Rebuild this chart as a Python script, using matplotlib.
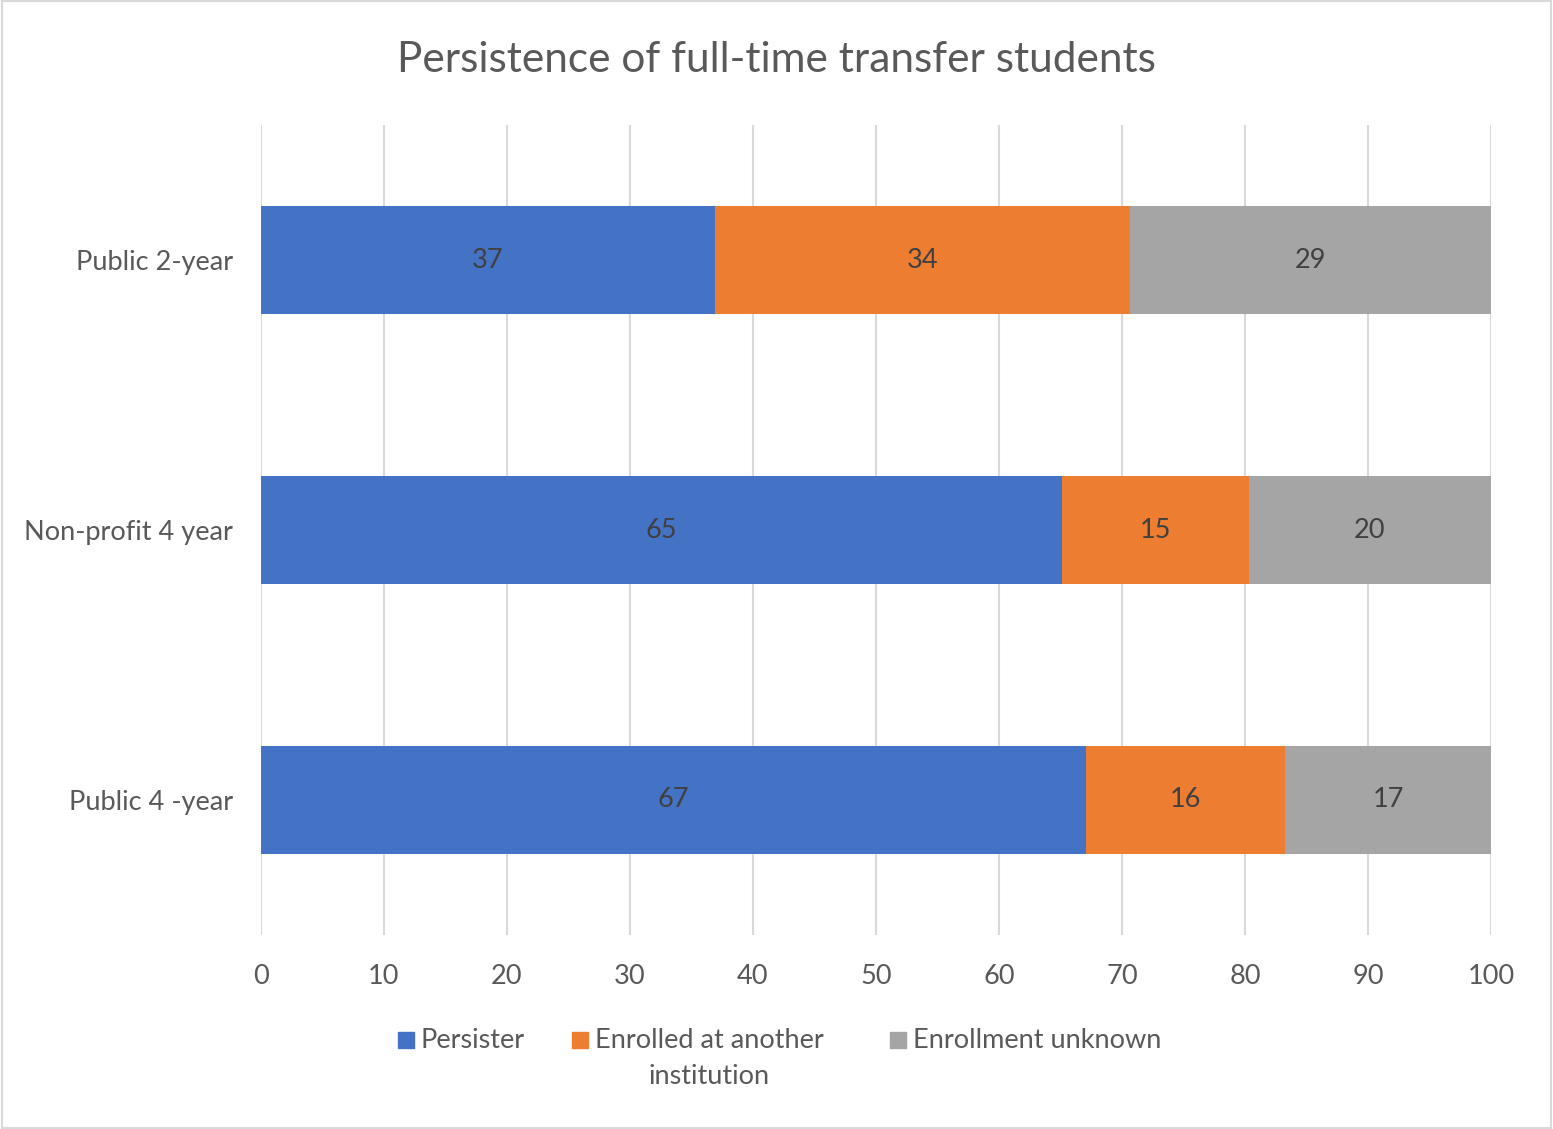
import matplotlib.pyplot as plt
from matplotlib.patches import Rectangle

# data
categories = ['Public 2-year', 'Non-profit 4 year', 'Public 4 -year']
persister = [36.9, 65.1, 67.1]
enrolled_other = [33.8, 15.2, 16.2]
unknown = [29.3, 19.7, 16.7]
series_names = ['Persister', 'Enrolled at another\ninstitution', 'Enrollment unknown']
colors = ['#4472C4', '#ED7D31', '#A5A5A5']

plt.rcParams['font.family'] = ['Lato', 'DejaVu Sans']
txt = '#595959'
fs = 19.5

fig = plt.figure(figsize=(15.53, 11.29), dpi=100)
ax = fig.add_axes([0.168, 0.172, 0.792, 0.717])

ypos = list(range(len(categories)))
left = [0] * len(categories)
for vals, name, col in zip([persister, enrolled_other, unknown], series_names, colors):
    bars = ax.barh(ypos, vals, left=left, height=0.4, color=col, label=name, zorder=3)
    for b, v in zip(bars, vals):
        ax.text(b.get_x() + b.get_width() / 2, b.get_y() + b.get_height() / 2, f'{v:.0f}',
                ha='center', va='center', fontsize=fs, color='#404040', zorder=4)
    left = [l + v for l, v in zip(left, vals)]

ax.set_xlim(0, 100)
ax.set_ylim(2.5, -0.5)
ax.set_xticks(range(0, 101, 10))
ax.set_yticks(ypos)
ax.set_yticklabels(categories)
ax.tick_params(axis='both', length=0, labelsize=fs, labelcolor=txt)
ax.tick_params(axis='x', pad=21)
ax.tick_params(axis='y', pad=20)
ax.grid(axis='x', color='#D9D9D9', linewidth=1.5, zorder=0)
for s in ax.spines.values():
    s.set_visible(False)

fig.text(0.5, 0.947, 'Persistence of full-time transfer students', ha='center', va='center',
         fontsize=30.5, color=txt)

# legend drawn by hand so the square sits on the first line of the wrapped label
W, H = 1553, 1129
leg_x = [398, 572, 890]     # left edge of each square, px
sq = 16
row_y = 1040                # centre of first legend line, px
for x0, name, col in zip(leg_x, series_names, colors):
    fig.patches.append(Rectangle((x0 / W, 1 - (row_y + sq / 2) / H), sq / W, sq / H,
                                 transform=fig.transFigure, color=col))
    fig.text((x0 + sq + 7) / W, 1 - (row_y - 12) / H, name, ha='left', va='top',
             fontsize=fs, color=txt, multialignment='center', linespacing=1.55)

fig.patches.append(Rectangle((0.001, 0.001), 0.998, 0.998, transform=fig.transFigure,
                             fill=False, edgecolor='#D9D9D9', linewidth=1.5))

fig.savefig('out.png', dpi=100)
